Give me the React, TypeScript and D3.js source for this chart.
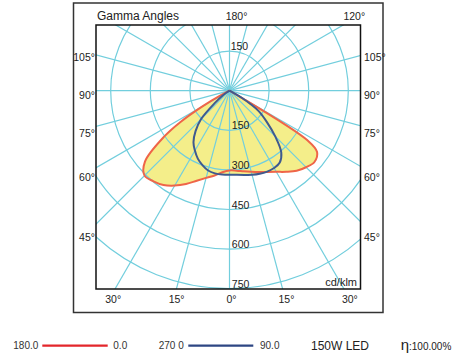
import React from 'react';
import * as d3 from 'd3';

// Gamma angles (degrees from nadir) at which intensities are sampled
const gammaAngles = [0, 5, 10, 15, 20, 25, 30, 35, 40, 45, 50, 55, 57.5, 60, 62.5, 65];
// C0 / C180 plane (red), cd/klm
const redC0 = [302, 304, 310, 318, 328, 340, 355, 375, 396, 410, 420, 405, 350, 50, 5, 0];
const redC180 = [302, 310, 326, 342, 363, 390, 415, 436, 448, 455, 418, 300, 220, 120, 40, 0];
// C90 / C270 plane (blue), cd/klm
const blueC90 = [318, 320, 324, 330, 335, 338, 338, 332, 305, 245, 185, 135, 95, 55, 15, 0];
const blueC270 = [318, 319, 318, 313, 300, 284, 262, 238, 200, 152, 72, 30, 12, 0, 0, 0];

const ringValues = [150, 300, 450, 600, 750];
const upperRingLabels = [150];
const sideLabelAngles = [105, 90, 75, 60, 45];
const bottomLabelAngles = [-30, -15, 0, 15, 30];
const topLabelAngles = [180, 120];

const legendItems = [
  { from: '180.0', to: '0.0', color: '#E3262B' },
  { from: '270 0', to: '90.0', color: '#2D4683' },
];
const lampName = '150W LED';
const efficiency = ':100.00%';

const W = 475;
const H = 358;
const box = { x0: 96, y0: 25, x1: 360.5, y1: 289 };
const cx = 229.5;
const cy = 90.7;
const rad = (d: number) => (d * Math.PI) / 180;
const rScale = d3.scaleLinear().domain([0, 750]).range([0, 198]);
const FONT = 'Liberation Sans, Arial, sans-serif';
const GRID = '#72CEDD';

function polarPoints(left: number[], right: number[]): [number, number][] {
  const pts: [number, number][] = [];
  for (let i = gammaAngles.length - 1; i >= 1; i--) {
    pts.push([Math.PI + rad(gammaAngles[i]), rScale(left[i])]);
  }
  for (let i = 0; i < gammaAngles.length; i++) {
    pts.push([Math.PI - rad(gammaAngles[i]), rScale(right[i])]);
  }
  return pts;
}

const radial = d3
  .lineRadial<[number, number]>()
  .angle((d) => d[0])
  .radius((d) => d[1])
  .curve(d3.curveCatmullRomClosed.alpha(0.5));

export default function App() {
  const redPath = radial(polarPoints(redC180, redC0)) || '';
  const bluePath = radial(polarPoints(blueC270, blueC90)) || '';
  const spokes = d3.range(0, 360, 15);
  const sideS = 142;

  return (
    <svg
      width={W}
      height={H}
      style={{ position: 'absolute', left: 0, top: 0, background: '#fff' }}
      fontFamily={FONT}
    >
      <defs>
        <clipPath id="plotClip">
          <rect x={box.x0} y={box.y0} width={box.x1 - box.x0} height={box.y1 - box.y0} />
        </clipPath>
      </defs>
      <rect x={0} y={0} width={W} height={H} fill="#fff" />
      {/* outer frame */}
      <rect x={73.5} y={3} width={309.5} height={309.5} fill="none" stroke="#333" strokeWidth={1.5} />

      {/* fills */}
      <g transform={`translate(${cx},${cy})`}>
        <path d={redPath} fill="#F4EE8A" stroke="none" />
        <path d={bluePath} fill="#F4EE8A" stroke="none" />
      </g>

      {/* grid */}
      <g clipPath="url(#plotClip)">
        <g transform={`translate(${cx},${cy})`}>
          {ringValues.map((v) => (
            <circle key={v} r={rScale(v)} fill="none" stroke={GRID} strokeWidth={1.2} />
          ))}
          {spokes.map((a) => (
            <line
              key={a}
              x1={0}
              y1={0}
              x2={400 * Math.sin(rad(a))}
              y2={-400 * Math.cos(rad(a))}
              stroke={GRID}
              strokeWidth={1.2}
            />
          ))}
        </g>
      </g>

      {/* curves */}
      <g transform={`translate(${cx},${cy})`}>
        <path d={redPath} fill="none" stroke="#EF6548" strokeWidth={2} strokeLinejoin="round" />
        <path d={bluePath} fill="none" stroke="#3F5A8F" strokeWidth={2} strokeLinejoin="round" />
      </g>

      {/* inner box */}
      <rect
        x={box.x0}
        y={box.y0}
        width={box.x1 - box.x0}
        height={box.y1 - box.y0}
        fill="none"
        stroke="#111"
        strokeWidth={1.5}
      />

      {/* ring labels */}
      {upperRingLabels.map((v) => (
        <text key={'u' + v} x={cx + 1.2} y={cy - rScale(v) - 0.8} fontSize={10.5} fill="#222">
          {v}
        </text>
      ))}
      {ringValues.map((v) => (
        <text key={'l' + v} x={cx + 2.3} y={cy + rScale(v) - 1} fontSize={10.5} fill="#222">
          {v}
        </text>
      ))}

      {/* side angle labels */}
      {sideLabelAngles.map((g) => {
        const y = cy + 4.3 + sideS * (Math.cos(rad(g)) / Math.sin(rad(g)));
        return (
          <g key={'s' + g}>
            <text x={box.x0 - 1} y={y} dy="0.35em" textAnchor="end" fontSize={10.5} fill="#222">
              {g}°
            </text>
            <text x={box.x1 + 3.5} y={y} dy="0.35em" textAnchor="start" fontSize={10.5} fill="#222">
              {g}°
            </text>
          </g>
        );
      })}

      {/* bottom angle labels */}
      {bottomLabelAngles.map((g, i) => (
        <text
          key={'b' + i}
          x={cx + 2 + 205 * Math.tan(rad(g))}
          y={303}
          textAnchor="middle"
          fontSize={10.5}
          fill="#222"
        >
          {Math.abs(g)}°
        </text>
      ))}

      {/* top angle labels */}
      {topLabelAngles.map((g) => (
        <text
          key={'t' + g}
          x={cx + 7 + 68 * Math.tan(rad(180 - g))}
          y={20}
          textAnchor="middle"
          fontSize={10.5}
          fill="#222"
        >
          {g}°
        </text>
      ))}

      <text x={97} y={20} fontSize={12} fill="#222">
        Gamma Angles
      </text>
      <text x={357} y={286} textAnchor="end" fontSize={11} fill="#222">
        cd/klm
      </text>

      {/* legend */}
      <g fontSize={10} fill="#333">
        <text x={13.3} y={348.5}>{legendItems[0].from}</text>
        <line x1={42.3} x2={107.7} y1={345.7} y2={345.7} stroke={legendItems[0].color} strokeWidth={2.2} />
        <text x={113.3} y={348.5}>{legendItems[0].to}</text>
        <text x={158.7} y={348.5}>{legendItems[1].from}</text>
        <line x1={188.3} x2={253.3} y1={345.7} y2={345.7} stroke={legendItems[1].color} strokeWidth={2.2} />
        <text x={260} y={348.5}>{legendItems[1].to}</text>
      </g>
      <text x={311} y={349.5} fontSize={12} fill="#222">
        {lampName}
      </text>
      <text x={400.7} y={349.5} fill="#222">
        <tspan fontSize={15}>η</tspan>
        <tspan fontSize={10}>{efficiency}</tspan>
      </text>
    </svg>
  );
}
